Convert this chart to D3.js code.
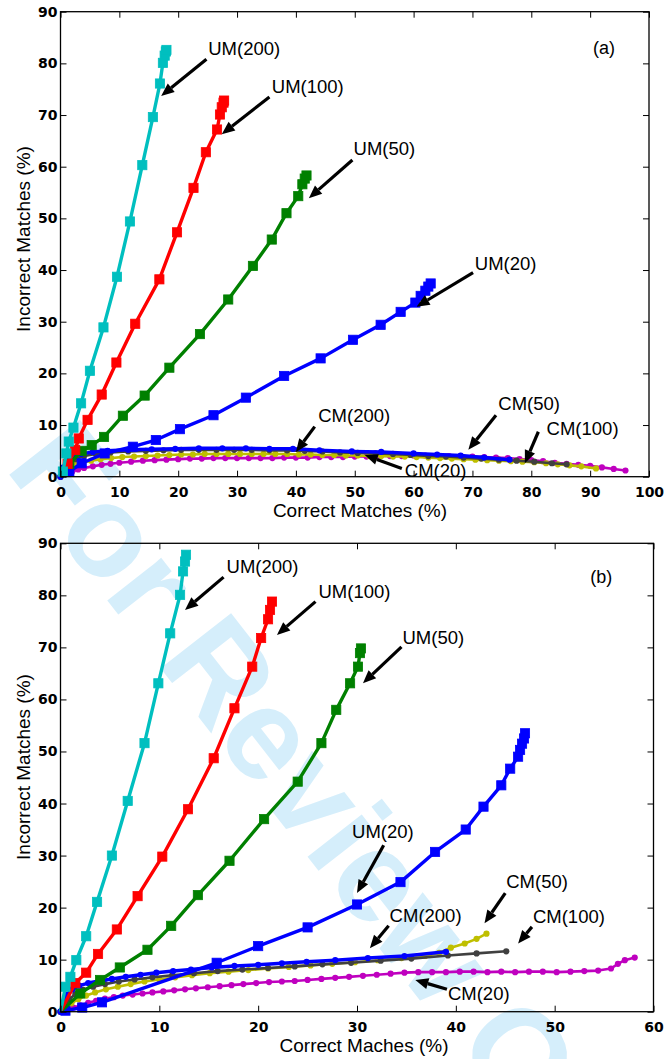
<!DOCTYPE html>
<html>
<head>
<meta charset="utf-8">
<script src="https://cdn.jsdelivr.net/npm/d3@7"></script>
<style>
body { margin: 0; background: #ffffff; }
</style>
</head>
<body>
<div id="chart"></div>
<script>
// ---- panel (a) data : [correct %, incorrect %] ----
var um200_a = [[0,0],[0.4,1.0],[1.0,4.5],[1.4,6.8],[2.2,9.5],[3.5,14.2],[5.0,20.5],[7.3,28.9],[9.6,38.7],[11.8,49.4],[13.9,60.3],[15.7,69.6],[16.9,76.1],[17.4,80.1],[17.7,81.5],[17.9,82.3],[18.0,82.6]];
var um100_a = [[0,0],[1.2,2.5],[2.5,5.2],[3.1,7.4],[4.6,11.0],[7.0,15.9],[9.5,22.1],[12.7,29.6],[16.8,38.2],[19.8,47.3],[22.6,55.9],[24.7,62.8],[26.6,67.2],[27.1,70.1],[27.4,71.5],[27.7,72.4],[27.8,72.8]];
var um50_a = [[0,0],[1.5,2.5],[3.6,5.0],[5.3,6.1],[7.4,7.7],[10.6,11.8],[14.3,15.7],[18.5,21.1],[23.7,27.6],[28.5,34.3],[32.7,40.8],[35.9,45.9],[38.4,51.0],[40.4,54.3],[41.1,56.6],[41.5,57.7],[41.8,58.3]];
var um20_a = [[0,0],[1.5,1.0],[3.6,2.6],[7.5,4.5],[12.3,5.8],[16.2,7.1],[20.3,9.2],[26.0,11.9],[31.5,15.3],[38.0,19.5],[44.2,22.9],[49.7,26.5],[54.4,29.4],[57.8,31.9],[60.3,33.7],[61.2,35.0],[62.0,36.0],[62.5,36.8],[62.9,37.4]];
var cm200_a = [[0,0],[0.5,1.8],[1.2,3.0],[2.2,3.9],[3.5,4.4],[5.5,4.8],[8,5.0],[11.5,5.2],[15.5,5.3],[19.5,5.4],[23.5,5.5],[27.5,5.5],[31.5,5.5],[35.5,5.4],[39.5,5.4],[44,5.1],[49.5,4.9],[54.5,4.8],[60,4.5],[64,4.3],[68,4.1],[72,3.7],[76.3,3.3]];
var cm100_a = [[0,0],[0.6,1.5],[1.4,2.6],[2.5,3.4],[4,4.0],[6,4.4],[8.5,4.7],[11.5,4.9],[14.5,5.0],[17.5,5.1],[20.5,5.2],[23.5,5.2],[26.5,5.2],[29.5,5.2],[32.5,5.2],[35.5,5.1],[38.5,5.1],[41.5,5.0],[44.5,4.9],[47.5,4.7],[50.5,4.6],[53.5,4.5],[56.5,4.4],[59.5,4.2],[62.5,4.0],[65.5,3.9],[68.5,3.7],[71.5,3.5],[74.5,3.3],[77.5,3.1],[80.5,2.9],[83.5,2.6],[86,2.4]];
var cm50_a = [[0,0],[0.8,0.8],[1.6,1.6],[2.6,2.3],[3.8,2.8],[5.2,3.1],[6.8,3.4],[8.6,3.6],[10.5,3.8],[12.5,3.9],[14.5,4.0],[16.5,4.1],[18.5,4.2],[20.5,4.3],[22.5,4.3],[24.5,4.4],[26.5,4.4],[28.5,4.4],[30.5,4.4],[32.5,4.4],[34.5,4.4],[36.5,4.4],[38.5,4.4],[40.5,4.3],[42.5,4.3],[44.5,4.2],[46.5,4.2],[48.5,4.1],[50.5,4.1],[52.5,4.0],[54.5,4.0],[56.5,3.9],[58.5,3.9],[60.5,3.8],[62.5,3.7],[64.5,3.6],[66.5,3.5],[68.5,3.4],[70.5,3.3],[72.5,3.2],[74.5,3.1],[76.5,3.0],[78.5,2.9],[80.5,2.8],[82.5,2.6],[84.5,2.4],[86.5,2.2],[88.5,2.0],[91,1.6]];
var cm20_a = [[0,0],[1,0.5],[2,1.0],[3,1.4],[4,1.7],[5.5,2.0],[7,2.3],[8.5,2.5],[10,2.7],[12,2.9],[14,3.1],[16,3.2],[18,3.3],[20,3.4],[22,3.5],[24,3.5],[26,3.6],[28,3.6],[30,3.6],[32,3.6],[34,3.6],[36,3.6],[38,3.7],[40,3.7],[42,3.7],[44,3.8],[46,3.8],[48,3.8],[50,3.9],[52,3.9],[54,4.0],[56,4.0],[58,4.0],[60,4.1],[62,4.1],[64,4.1],[66,4.0],[68,4.0],[70,3.9],[72,3.8],[74,3.7],[76,3.6],[78,3.4],[80,3.2],[82,3.0],[84,2.7],[86,2.5],[88,2.3],[90,2.1],[92,1.8],[94,1.5],[96,1.2]];

// ---- panel (b) data ----
var um200_b = [[0,0],[0.5,4.8],[1.0,6.7],[1.6,9.9],[2.6,14.5],[3.7,21.1],[5.2,30.0],[6.8,40.5],[8.5,51.6],[9.9,63.1],[11.1,72.7],[12.1,80.1],[12.4,84.6],[12.6,86.5],[12.7,87.8]];
var um100_b = [[0,0],[1.5,5.5],[2.6,7.5],[3.8,11.1],[5.7,15.8],[7.8,22.2],[10.3,29.8],[12.9,38.9],[15.5,48.7],[17.6,58.3],[19.4,66.3],[20.3,71.8],[21.0,75.4],[21.2,77.2],[21.4,78.8]];
var um50_b = [[0,0],[2.0,3.5],[4.0,6.1],[6.0,8.5],[8.8,11.9],[11.2,16.5],[13.9,22.4],[17.1,29.0],[20.6,37.0],[24.0,44.2],[26.4,51.6],[27.9,58.0],[29.3,63.1],[30.1,66.3],[30.3,68.9],[30.4,69.8]];
var um20_b = [[0,0],[0.5,0.2],[2.2,0.8],[4.2,1.8],[15.8,9.4],[20.0,12.6],[25.0,16.2],[30.0,20.6],[34.4,24.9],[37.9,30.7],[41.0,35.0],[42.8,39.4],[44.6,43.5],[45.5,46.7],[46.3,49.0],[46.5,50.3],[46.7,51.5],[46.9,52.5],[47.0,53.5]];
var cm200_b = [[0,0],[0.3,1.8],[0.7,3.3],[1.2,4.3],[1.9,5.0],[2.8,5.5],[3.9,5.9],[5.2,6.3],[6.6,6.7],[8.1,7.1],[9.7,7.5],[11.4,7.8],[13.2,8.1],[15.3,8.5],[17.6,8.8],[20.0,9.0],[22.4,9.3],[24.9,9.6],[27.8,9.9],[31.1,10.3],[34.8,10.7],[39.0,11.5]];
var cm100_b = [[0,0],[0.4,1.2],[0.9,2.4],[1.5,3.4],[2.3,4.2],[3.3,4.8],[4.5,5.3],[5.9,5.8],[7.5,6.2],[9.3,6.6],[11.3,7.0],[13.5,7.4],[15.9,7.8],[18.4,8.1],[21.0,8.4],[23.7,8.7],[26.5,9.1],[29.4,9.4],[32.4,9.8],[35.5,10.2],[39.2,10.8],[42.1,11.2],[45.1,11.6]];
var cm50_b = [[0,0],[0.5,0.8],[1.1,1.6],[1.8,2.4],[2.6,3.1],[3.5,3.7],[4.6,4.3],[5.8,4.8],[7.1,5.3],[8.5,5.8],[10.0,6.2],[11.6,6.6],[13.3,7.0],[15.1,7.4],[17.0,7.7],[19.0,8.0],[21.0,8.3],[23.1,8.6],[25.3,8.9],[27.5,9.2],[29.8,9.5],[32.1,9.9],[34.5,10.3],[36.9,10.7],[38.3,11.3],[39.5,12.3],[40.9,13.1],[42.1,14.0],[43.1,15.0]];
var cm20_b = [[0,0],[0.6,0.4],[1.3,0.8],[2.0,1.2],[2.8,1.7],[3.6,2.1],[4.5,2.5],[5.4,2.8],[6.3,3.1],[7.3,3.3],[8.3,3.5],[9.3,3.7],[10.4,3.9],[11.5,4.1],[12.6,4.3],[13.7,4.5],[14.9,4.7],[16.1,4.9],[17.3,5.1],[18.5,5.3],[19.8,5.5],[21.1,5.7],[22.4,5.8],[23.7,5.9],[25.0,6.1],[26.4,6.3],[27.8,6.5],[29.2,6.7],[30.6,6.9],[32.0,7.1],[33.4,7.3],[34.8,7.5],[36.2,7.6],[37.6,7.6],[39.0,7.6],[40.4,7.7],[41.8,7.7],[43.2,7.6],[44.6,7.7],[46.0,7.6],[47.4,7.7],[48.8,7.7],[50.2,7.6],[51.6,7.7],[53.0,7.8],[54.4,7.9],[55.7,8.3],[56.4,9.2],[57.1,9.9],[58.1,10.4]];

// tick values
var x_ticks_a = [0,10,20,30,40,50,60,70,80,90,100];
var x_ticks_b = [0,10,20,30,40,50,60];
var y_ticks = [0,10,20,30,40,50,60,70,80,90];

// annotations: label text, label position, arrow start, arrow tip (data units)
var notes_a = [
    ['UM(200)', [25.1,81.6], [24.8,80.8], [17.1,73.7]],
    ['UM(100)', [35.9,74.3], [35.5,73.5], [27.4,66.3]],
    ['UM(50)',  [49.8,62.3], [49.6,61.3], [42.2,53.9]],
    ['UM(20)',  [70.4,40.1], [70.1,39.5], [60.5,32.9]],
    ['CM(200)', [43.8,10.6], [43.2,9.7],  [40.0,4.8]],
    ['CM(50)',  [74.4,12.9], [74.0,11.9], [69.3,5.2]],
    ['CM(100)', [82.6,8.1],  [81.2,8.7],  [78.9,2.6]],
    ['CM(20)',  [58.5,0.0],  [58.0,1.6],  [51.7,4.2]]
];
var notes_b = [
    ['UM(200)', [16.8,84.2], [16.5,83.5], [12.6,77.2]],
    ['UM(100)', [26.1,79.4], [25.8,78.8], [21.9,72.4]],
    ['UM(50)',  [34.6,70.7], [34.5,70.1], [30.6,63.1]],
    ['UM(20)',  [29.5,33.3], [32.7,32.0], [30.0,22.8]],
    ['CM(200)', [33.3,17.3], [33.2,16.5], [31.3,12.2]],
    ['CM(50)',  [45.1,23.7], [45.0,22.8], [42.9,17.0]],
    ['CM(100)', [47.8,17.1], [47.7,16.3], [46.3,13.1]],
    ['CM(20)',  [39.2,2.2],  [39.1,4.3],  [35.9,6.1]]
];

var svg_width = 665, svg_height = 1059;
var svg = d3.select('#chart').append('svg')
    .attr('width', svg_width)
    .attr('height', svg_height);

var label_font = 'Liberation Sans, Arial, Helvetica, sans-serif';
var tick_font = 'DejaVu Sans, Verdana, sans-serif';

// 背景水印 (drawn first, under the plots; it runs off the page as in the original)
svg.append('text')
    .attr('transform', 'translate(4,468) rotate(52)')
    .attr('font-family', label_font)
    .attr('font-weight', 'bold')
    .attr('font-size', 130)
    .attr('fill', '#d5eefb')
    .text('For Review Only');

// series order: CM first, UM on top
function series_list(p) {
    return [
        {data: p.cm20,  color: '#bf00bf', width: 2.6, mark: 'dot'},
        {data: p.cm50,  color: '#bfbf00', width: 2.6, mark: 'dot'},
        {data: p.cm100, color: '#404040', width: 2.6, mark: 'dot'},
        {data: p.cm200, color: '#0000ff', width: 3.5, mark: 'dot'},
        {data: p.um20,  color: '#0000ff', width: 3.4, mark: 'square'},
        {data: p.um50,  color: '#008000', width: 3.4, mark: 'square'},
        {data: p.um100, color: '#ff0000', width: 3.4, mark: 'square'},
        {data: p.um200, color: '#00bfbf', width: 3.4, mark: 'square'}
    ];
}

function draw_panel(p) {
    var x = d3.scaleLinear().domain(p.x_domain).range([p.left, p.right]);
    var y = d3.scaleLinear().domain([0, 90]).range([p.bottom, p.top]);
    var g = svg.append('g');

    // curves
    var line = d3.line().x(function (d) { return x(d[0]); }).y(function (d) { return y(d[1]); });
    series_list(p).forEach(function (s) {
        g.append('path')
            .attr('d', line(s.data))
            .attr('fill', 'none')
            .attr('stroke', s.color)
            .attr('stroke-width', s.width)
            .attr('stroke-linejoin', 'round');
        if (s.mark == 'square') {
            g.selectAll(null).data(s.data.slice(1)).enter().append('rect')
                .attr('x', function (d) { return x(d[0]) - 4.6; })
                .attr('y', function (d) { return y(d[1]) - 4.6; })
                .attr('width', 9.2).attr('height', 9.2)
                .attr('fill', s.color)
                .attr('stroke', s.color).attr('stroke-width', 0.8);
        } else {
            g.selectAll(null).data(s.data).enter().append('circle')
                .attr('cx', function (d) { return x(d[0]); })
                .attr('cy', function (d) { return y(d[1]); })
                .attr('r', 3.1)
                .attr('fill', s.color);
        }
    });

    // axes, ticks pointing inward on all four sides
    function style_axis(a) {
        a.select('.domain').remove();
        a.selectAll('.tick line').attr('stroke', '#000').attr('stroke-width', 1);
        a.selectAll('text')
            .attr('font-family', tick_font)
            .attr('font-weight', 'bold')
            .attr('font-size', 14)
            .attr('fill', '#000');
    }
    g.append('g').attr('transform', 'translate(0,' + p.bottom + ')')
        .call(d3.axisBottom(x).tickValues(p.x_ticks).tickSizeInner(-6).tickSizeOuter(0).tickPadding(10))
        .call(style_axis);
    g.append('g').attr('transform', 'translate(0,' + p.top + ')')
        .call(d3.axisTop(x).tickValues(p.x_ticks).tickSizeInner(-6).tickSizeOuter(0).tickFormat(''))
        .call(style_axis);
    g.append('g').attr('transform', 'translate(' + p.left + ',0)')
        .call(d3.axisLeft(y).tickValues(y_ticks).tickSizeInner(-6).tickSizeOuter(0).tickPadding(3))
        .call(style_axis);
    g.append('g').attr('transform', 'translate(' + p.right + ',0)')
        .call(d3.axisRight(y).tickValues(y_ticks).tickSizeInner(-6).tickSizeOuter(0).tickFormat(''))
        .call(style_axis);
    g.append('rect')
        .attr('x', p.left).attr('y', p.top)
        .attr('width', p.right - p.left).attr('height', p.bottom - p.top)
        .attr('fill', 'none').attr('stroke', '#000').attr('stroke-width', 1.3);

    // axis titles
    g.append('text')
        .attr('x', p.x_title_x).attr('y', p.bottom + 40)
        .attr('text-anchor', 'middle')
        .attr('font-family', label_font).attr('font-size', 19)
        .text(p.x_title);
    g.append('text')
        .attr('transform', 'translate(30,' + p.y_title_y + ') rotate(-90)')
        .attr('text-anchor', 'middle')
        .attr('font-family', label_font).attr('font-size', 19)
        .text('Incorrect Matches (%)');

    // panel letter
    g.append('text')
        .attr('x', x(p.letter_pos[0])).attr('y', y(p.letter_pos[1]))
        .attr('font-family', label_font).attr('font-size', 18)
        .text(p.letter);

    // labels + arrows
    p.notes.forEach(function (n) {
        g.append('text')
            .attr('x', x(n[1][0])).attr('y', y(n[1][1]))
            .attr('font-family', label_font).attr('font-size', 18.5)
            .attr('fill', '#000')
            .text(n[0]);
        var x0 = x(n[2][0]), y0 = y(n[2][1]), x1 = x(n[3][0]), y1 = y(n[3][1]);
        var ang = Math.atan2(y1 - y0, x1 - x0);
        var head_len = 13, head_w = 5.5;
        var bx = x1 - head_len * Math.cos(ang), by = y1 - head_len * Math.sin(ang);
        g.append('line')
            .attr('x1', x0).attr('y1', y0).attr('x2', bx).attr('y2', by)
            .attr('stroke', '#000').attr('stroke-width', 3.2);
        var px = -Math.sin(ang) * head_w, py = Math.cos(ang) * head_w;
        g.append('path')
            .attr('d', 'M' + x1 + ',' + y1 + 'L' + (bx + px) + ',' + (by + py) + 'L' + (bx - px) + ',' + (by - py) + 'Z')
            .attr('fill', '#000');
    });
}

draw_panel({
    left: 60.5, right: 649, top: 11.7, bottom: 476.7,
    x_domain: [0, 100], x_ticks: x_ticks_a,
    um200: um200_a, um100: um100_a, um50: um50_a, um20: um20_a,
    cm200: cm200_a, cm100: cm100_a, cm50: cm50_a, cm20: cm20_a,
    notes: notes_a, letter: '(a)', letter_pos: [90.5, 81.9],
    x_title: 'Correct Matches (%)', x_title_x: 360, y_title_y: 239
});
draw_panel({
    left: 60.5, right: 653.5, top: 543.3, bottom: 1011.7,
    x_domain: [0, 60], x_ticks: x_ticks_b,
    um200: um200_b, um100: um100_b, um50: um50_b, um20: um20_b,
    cm200: cm200_b, cm100: cm100_b, cm50: cm50_b, cm20: cm20_b,
    notes: notes_b, letter: '(b)', letter_pos: [53.6, 82.3],
    x_title: 'Correct Maches (%)', x_title_x: 364, y_title_y: 767
});
</script>
</body>
</html>
